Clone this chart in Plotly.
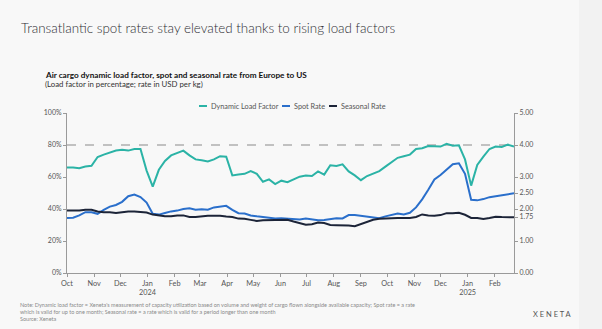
import pandas as pd
import plotly.graph_objects as go

# weekly dates, Oct 1 2023 .. Feb 23 2025
dates = pd.date_range("2023-10-01", periods=74, freq="7D")

# Dynamic load factor (%)
dlf = [66, 66, 65.5, 66.5, 67, 72.5, 74, 75.5, 76.5, 77, 76.5, 77.5, 77.5, 64, 54, 64.5, 70, 73.5, 75, 76.5,
       73.5, 71, 70.5, 69.7, 71, 73, 72.7, 61, 61.5, 62, 63.7, 62, 57, 58.5, 55.6, 57.7, 56.7, 58.5, 60.2, 61,
       60.6, 63.5, 61.5, 67.3, 66.9, 67.9, 63.5, 61, 58, 60.6, 62.3, 63.7, 66.5, 69, 72, 73, 74, 77.5, 78, 79.3,
       79, 79, 80.7, 79.6, 79.8, 71, 54.6, 67.5, 72.7, 77.5, 79, 78.8, 80.2, 79]

# Spot rate (USD/kg)
spot = [1.715, 1.725, 1.80, 1.90, 1.90, 1.85, 1.975, 2.075, 2.125, 2.225, 2.40, 2.45, 2.375, 2.20, 1.85, 1.825,
        1.875, 1.925, 1.95, 2.00, 2.025, 1.975, 1.99, 1.98, 2.05, 2.08, 2.10, 1.975, 1.87, 1.86, 1.80, 1.77,
        1.75, 1.725, 1.705, 1.71, 1.70, 1.675, 1.67, 1.70, 1.67, 1.65, 1.66, 1.69, 1.71, 1.705, 1.81, 1.81,
        1.79, 1.76, 1.73, 1.715, 1.77, 1.82, 1.86, 1.83, 1.88, 2.05, 2.30, 2.60, 2.92, 3.06, 3.22, 3.40, 3.43,
        3.10, 2.29, 2.27, 2.31, 2.37, 2.40, 2.43, 2.45, 2.49]

# Seasonal rate (USD/kg)
seasonal = [1.95, 1.95, 1.95, 1.975, 1.975, 1.925, 1.90, 1.90, 1.875, 1.90, 1.925, 1.925, 1.91, 1.89, 1.825,
            1.80, 1.775, 1.775, 1.80, 1.80, 1.75, 1.75, 1.775, 1.79, 1.79, 1.79, 1.765, 1.75, 1.70, 1.695,
            1.66, 1.625, 1.65, 1.65, 1.665, 1.665, 1.665, 1.61, 1.55, 1.51, 1.525, 1.575, 1.56, 1.50, 1.495,
            1.495, 1.485, 1.465, 1.54, 1.61, 1.665, 1.695, 1.695, 1.705, 1.715, 1.72, 1.72, 1.75, 1.83, 1.80,
            1.79, 1.81, 1.87, 1.87, 1.88, 1.82, 1.72, 1.72, 1.69, 1.72, 1.76, 1.75, 1.74, 1.74]

series_names = ["Dynamic Load Factor", "Spot Rate", "Seasonal Rate"]
series_colors = ["#2bb3a6", "#2a6fcb", "#1c2438"]

month_ticks = pd.date_range("2023-10-01", "2025-02-01", freq="MS")
month_text = [("%s<br>%d" % (d.strftime("%b"), d.year)) if d.month == 1 else d.strftime("%b") for d in month_ticks]

left_ticks = [0, 20, 40, 60, 80, 100]
left_text = ["0%", "20%", "40%", "60%", "80%", "100%"]
right_ticks = [0, 1, 1.75, 2, 2.5, 3, 4, 5]
right_text = ["0.00", "1.00", "1.75", "2.00", "2.50", "3.00", "4.00", "5.00"]

FONT = "Lato"
GREY = "#555555"
AX = "#9a9a9a"

fig = go.Figure()
fig.add_trace(go.Scatter(x=dates, y=dlf, name=series_names[0], mode="lines",
                         line=dict(color=series_colors[0], width=2)))
fig.add_trace(go.Scatter(x=dates, y=spot, name=series_names[1], mode="lines", yaxis="y2",
                         line=dict(color=series_colors[1], width=2)))
fig.add_trace(go.Scatter(x=dates, y=seasonal, name=series_names[2], mode="lines", yaxis="y2",
                         line=dict(color=series_colors[2], width=2)))

def px_x(p):
    return (p - 67) / 447.0

def px_y(p):
    return (273 - p) / 160.0

fig.update_layout(
    width=602, height=329,
    margin=dict(l=67, r=88, t=113, b=56),
    paper_bgcolor="#f8f8f8", plot_bgcolor="#f8f8f8",
    font=dict(family=FONT, color=GREY, size=7),
    showlegend=False,
    title=dict(text="Transatlantic spot rates stay elevated thanks to rising load factors",
               x=21 / 602, xanchor="left", y=1 - 28 / 329, yanchor="middle", xref="container", yref="container",
               font=dict(family=FONT, size=13.4, color="#2e2e33", weight=300)),
    xaxis=dict(range=[dates[0], dates[-1]], tickvals=month_ticks, ticktext=month_text,
               showgrid=False, zeroline=False, showline=True, linecolor=AX, linewidth=1,
               ticks="outside", ticklen=3, tickcolor=AX, tickfont=dict(size=7.3, color=GREY)),
    yaxis=dict(range=[0, 100], tickvals=left_ticks, ticktext=left_text, showgrid=False, zeroline=False,
               showline=True, linecolor=AX, linewidth=1, ticks="outside", ticklen=3, tickcolor=AX,
               tickfont=dict(size=7, color=GREY)),
    yaxis2=dict(range=[0, 5], tickvals=right_ticks, ticktext=right_text, overlaying="y", side="right",
                showgrid=False, zeroline=False, showline=True, linecolor=AX, linewidth=1.2,
                ticks="outside", ticklen=3, tickcolor=AX, tickfont=dict(size=7, color=GREY)),
)

# 80% reference line
fig.add_shape(type="line", xref="paper", yref="y", x0=0, x1=1, y0=80, y1=80,
              line=dict(color="#8a8a8a", width=1, dash="dash"), layer="below")

# right-hand lighter band of the screenshot
fig.add_shape(type="rect", xref="paper", yref="paper", x0=px_x(579), x1=px_x(603), y0=px_y(330), y1=px_y(-1),
              fillcolor="#f2f2f2", line=dict(width=0), layer="below")

# compact legend (line sample + label)
legend_starts = [199, 282, 329]
for name, color, x0 in zip(series_names, series_colors, legend_starts):
    fig.add_shape(type="line", xref="paper", yref="paper", x0=px_x(x0), x1=px_x(x0 + 8),
                  y0=px_y(106), y1=px_y(106), line=dict(color=color, width=2))
    fig.add_annotation(text=name, xref="paper", yref="paper", x=px_x(x0 + 10), y=px_y(106),
                       xanchor="left", yanchor="middle", showarrow=False,
                       font=dict(size=7.3, color=GREY, family=FONT))

fig.add_annotation(text="<b>Air cargo dynamic load factor, spot and seasonal rate from Europe to US</b>",
                   xref="paper", yref="paper", x=px_x(43), y=px_y(75), xanchor="left", yanchor="middle",
                   showarrow=False, font=dict(size=8.2, color="#111111", family=FONT))
fig.add_annotation(text="(Load factor in percentage; rate in USD per kg)",
                   xref="paper", yref="paper", x=px_x(43), y=px_y(84.5), xanchor="left", yanchor="middle",
                   showarrow=False, font=dict(size=7.8, color="#333333", family=FONT))
fig.add_annotation(text=("Note: Dynamic load factor = Xeneta's measurement of capacity utilization based on volume and weight of cargo flown alongside available capacity; Spot rate = a rate<br>"
                         "which is valid for up to one month; Seasonal rate = a rate which is valid for a period longer than one month<br>"
                         "Source: Xeneta"),
                   xref="paper", yref="paper", x=px_x(18), y=px_y(300), xanchor="left", yanchor="top",
                   align="left", showarrow=False, font=dict(size=5.5, color="#8a8a8a", family=FONT))
fig.add_annotation(text="X E N E T A", xref="paper", yref="paper", x=px_x(552), y=px_y(314),
                   xanchor="center", yanchor="middle", showarrow=False,
                   font=dict(size=7.5, color="#555555", family=FONT))

fig.write_html("out.html")
